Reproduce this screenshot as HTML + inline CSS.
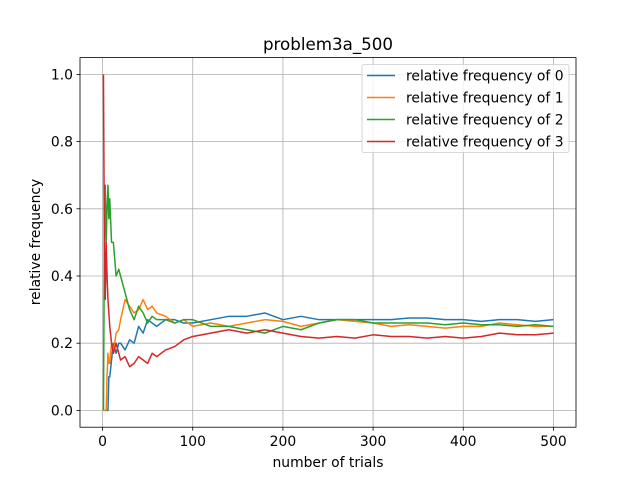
<!DOCTYPE html>
<html><head><meta charset="utf-8"><style>
html,body{margin:0;padding:0;background:#fff}
svg{display:block;font-family:"DejaVu Sans","Liberation Sans",sans-serif}
</style></head><body>
<svg id="chart" width="640" height="480" viewBox="0 0 640 480" xmlns="http://www.w3.org/2000/svg">
<rect width="640" height="480" fill="#fff"/>
<g id="grid"></g>
<g id="series"></g>
<rect x="80" y="57.6" width="496" height="369.6" fill="none" stroke="#000" stroke-width="0.8"/>
<g id="ticks"></g>
<text x="328" y="50" text-anchor="middle" font-size="16.7">problem3a_500</text>
<text x="328" y="467" text-anchor="middle" font-size="13.9">number of trials</text>
<text transform="translate(40,242) rotate(-90)" text-anchor="middle" font-size="13.9">relative frequency</text>
<g id="legend"></g>
</svg>
<script>
const trials=[1,2,3,4,5,6,7,8,10,12,15,18,20,25,30,35,40,45,50,55,60,70,80,90,100,120,140,160,180,200,220,240,260,280,300,320,340,360,380,400,420,440,460,480,500];
const freq0=[0,0,0,0,0,0,0.1,0.1,0.15,0.2,0.17,0.2,0.2,0.18,0.21,0.2,0.25,0.23,0.27,0.26,0.25,0.27,0.27,0.26,0.26,0.27,0.28,0.28,0.29,0.27,0.28,0.27,0.27,0.27,0.27,0.27,0.275,0.275,0.27,0.27,0.265,0.27,0.27,0.265,0.27];
const freq1=[0,0,0,0,0.1,0.17,0.14,0.14,0.2,0.17,0.23,0.24,0.27,0.33,0.31,0.29,0.3,0.33,0.3,0.31,0.29,0.28,0.26,0.27,0.25,0.26,0.25,0.26,0.27,0.265,0.25,0.26,0.27,0.265,0.26,0.25,0.255,0.25,0.245,0.25,0.25,0.26,0.255,0.25,0.25];
const freq2=[0,0.5,0.67,0.5,0.6,0.67,0.57,0.63,0.5,0.5,0.4,0.42,0.4,0.35,0.3,0.27,0.31,0.29,0.26,0.28,0.27,0.27,0.26,0.27,0.27,0.25,0.25,0.24,0.23,0.25,0.24,0.26,0.27,0.27,0.26,0.26,0.26,0.26,0.255,0.26,0.255,0.255,0.25,0.255,0.25];
const freq3=[1,0.5,0.33,0.5,0.4,0.33,0.29,0.25,0.2,0.17,0.2,0.17,0.15,0.16,0.13,0.14,0.16,0.15,0.14,0.17,0.16,0.18,0.19,0.21,0.22,0.23,0.24,0.23,0.24,0.23,0.22,0.215,0.22,0.215,0.225,0.22,0.22,0.215,0.22,0.215,0.22,0.23,0.225,0.225,0.23];
const seriesNames=["relative frequency of 0","relative frequency of 1","relative frequency of 2","relative frequency of 3"];
const xTicks=[0,100,200,300,400,500];
const yTicks=[0.0,0.2,0.4,0.6,0.8,1.0];
const colors=["#1f77b4","#ff7f0e","#2ca02c","#d62728"];
const NS="http://www.w3.org/2000/svg";
const X0=80,X1=576,Y0=427.2,Y1=57.6,xmin=-25,xmax=525,ymin=-0.05,ymax=1.05;
const xs=v=>X0+(v-xmin)/(xmax-xmin)*(X1-X0);
const ys=v=>Y0-(v-ymin)/(ymax-ymin)*(Y0-Y1);
function mk(tag,attrs,parent){const e=document.createElementNS(NS,tag);for(const k in attrs)e.setAttribute(k,attrs[k]);parent.appendChild(e);return e;}
const grid=document.getElementById('grid'),ticks=document.getElementById('ticks');
xTicks.forEach(t=>{
  const g=mk('line',{x1:xs(t),x2:xs(t),y1:Y1,y2:Y0,stroke:'#b0b0b0','stroke-width':0.8},grid);
  
  
  const tk=mk('line',{x1:xs(t),x2:xs(t),y1:Y0,y2:Y0+3.5,stroke:'#000','stroke-width':0.8},ticks);
  
  
  const tl=mk('text',{x:xs(t),y:Y0+19,'text-anchor':'middle','font-size':13.9},ticks);
  
  
  tl.textContent=t;
});
yTicks.forEach(t=>{
  const g=mk('line',{x1:X0,x2:X1,y1:ys(t),y2:ys(t),stroke:'#b0b0b0','stroke-width':0.8},grid);
  
  
  const tk=mk('line',{x1:X0-3.5,x2:X0,y1:ys(t),y2:ys(t),stroke:'#000','stroke-width':0.8},ticks);
  
  
  const tl=mk('text',{x:X0-7,y:ys(t)+5,'text-anchor':'end','font-size':13.9},ticks);
  
  
  tl.textContent=t.toFixed(1);
});
const series=document.getElementById('series');
[freq0,freq1,freq2,freq3].forEach((arr,i)=>{
  const d=arr.map((v,j)=>(j?'L':'M')+xs(trials[j]).toFixed(2)+' '+ys(v).toFixed(2)).join(' ');
  const p=mk('path',{d:d,fill:'none',stroke:colors[i],'stroke-width':1.5,'stroke-linejoin':'round'},series);
  
  
});
const lg=document.getElementById('legend');
const box=mk('rect',{x:362,y:64.5,width:207,height:88,rx:2,fill:'#fff','fill-opacity':0.8,stroke:'#ccc','stroke-width':0.8},lg);


seriesNames.forEach((n,i)=>{
  const y=75.5+i*22;
  const l=mk('line',{x1:367,x2:395,y1:y,y2:y,stroke:colors[i],'stroke-width':1.5},lg);
  
  
  const t=mk('text',{x:406,y:y+5,'font-size':13.9},lg);
  
  
  t.textContent=n;
});
</script>
</body></html>
